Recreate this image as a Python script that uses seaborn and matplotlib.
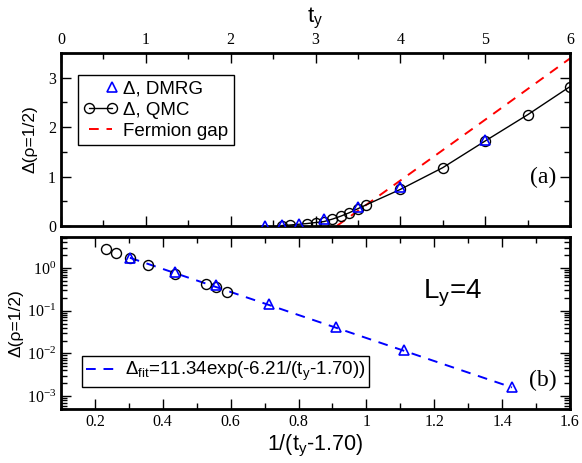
import numpy as np
import pandas as pd
import matplotlib
matplotlib.use("Agg")
import matplotlib.pyplot as plt
import seaborn as sns
from matplotlib.ticker import MultipleLocator, LogLocator, NullFormatter, FixedLocator

# ---------------- data ----------------
dmrg_t = [2.4, 2.6, 2.8, 3.1, 3.5, 4.0, 5.0]
dmrg_gap = [0.0016, 0.012, 0.041, 0.14, 0.39, 0.79, 1.75]

qmc_t = [2.6, 2.7, 2.9, 3.0, 3.1, 3.2, 3.3, 3.4, 3.5, 3.6, 4.0, 4.5, 5.0, 5.5, 6.0]
qmc_gap = [0.01, 0.02, 0.05, 0.07, 0.09, 0.14, 0.2, 0.27, 0.35, 0.43, 0.74, 1.18, 1.72, 2.25, 2.82]

fermion_t = [3.25, 4.0, 5.0, 6.0]
fermion_gap = [0.0, 0.92, 2.15, 3.39]

fit_x = [0.303, 1.429]
fit_y = [1.73, 0.0016]

t_shift = 1.70
qmc_min_t_loglog = 3.4

yticks_top = [0, 1, 2, 3]
xticks_top = [0, 1, 2, 3, 4, 5, 6]
xticks_bot = [0.2, 0.4, 0.6, 0.8, 1.0, 1.2, 1.4, 1.6]
xticklabels_bot = ["0.2", "0.4", "0.6", "0.8", "1", "1.2", "1.4", "1.6"]
yticks_bot = [1e-3, 1e-2, 1e-1, 1e0]
yticklabels_bot = [r"$\mathregular{10^{-3}}$", r"$\mathregular{10^{-2}}$",
                   r"$\mathregular{10^{-1}}$", r"$\mathregular{10^{0}}$"]

# ---------------- style ----------------
sns.set_style("ticks")
plt.rcParams["font.family"] = ["Liberation Sans", "DejaVu Sans"]
plt.rcParams["mathtext.fontset"] = "custom"
plt.rcParams["mathtext.rm"] = "Liberation Sans"
plt.rcParams["mathtext.it"] = "Liberation Sans:italic"
for k in ["axes.edgecolor", "xtick.color", "ytick.color", "text.color",
          "axes.labelcolor", "xtick.labelcolor", "ytick.labelcolor"]:
    plt.rcParams[k] = "black"
SERIF = "Liberation Serif"

W, H = 582, 463
fig = plt.figure(figsize=(W / 100, H / 100), dpi=100)

def axpos(l, t, r, b):
    return [l / W, 1 - b / H, (r - l) / W, (b - t) / H]

ax1 = fig.add_axes(axpos(61, 53, 570, 226))
ax2 = fig.add_axes(axpos(61, 237, 570, 409))

df_d = pd.DataFrame({"t": dmrg_t, "gap": dmrg_gap})
df_q = pd.DataFrame({"t": qmc_t, "gap": qmc_gap})
df_f = pd.DataFrame({"t": fermion_t, "gap": fermion_gap})

MS = 7.2

# ---------- top panel ----------
sns.lineplot(data=df_f, x="t", y="gap", ax=ax1, color="red", lw=1.4,
             linestyle=(0, (5, 4)), label="Fermion gap", zorder=2)
sns.lineplot(data=df_q, x="t", y="gap", ax=ax1, color="black", lw=1.0,
             marker="o", markersize=MS, markerfacecolor="none",
             markeredgecolor="black", markeredgewidth=1.0, label="Δ, QMC", zorder=3)
sns.lineplot(data=df_d, x="t", y="gap", ax=ax1, color="blue", linestyle="",
             marker="^", markersize=MS, markerfacecolor="none",
             markeredgecolor="blue", markeredgewidth=1.2, label="Δ, DMRG", zorder=4)

ax1.set_xlim(0, 6)
ax1.set_ylim(0, 3.5)
ax1.set_xticks(xticks_top)
ax1.set_yticks(yticks_top)
ax1.xaxis.set_minor_locator(MultipleLocator(0.5))
ax1.yaxis.set_minor_locator(MultipleLocator(0.5))
ax1.xaxis.tick_top()
ax1.xaxis.set_label_position("top")
ax1.set_xlabel(r"$\mathregular{t_y}$", fontsize=16, labelpad=7)
ax1.set_ylabel("Δ(ρ=1/2)", fontsize=12.5, labelpad=8)
ax1.tick_params(which="both", direction="in", top=True, bottom=True, left=True, right=True,
                labeltop=True, labelbottom=False, labelfontfamily=SERIF, labelsize=11.5)
ax1.tick_params(which="major", length=7, width=1)
ax1.tick_params(which="minor", length=4, width=1)

h, l = ax1.get_legend_handles_labels()
order = [l.index("Δ, DMRG"), l.index("Δ, QMC"), l.index("Fermion gap")]
leg1 = ax1.legend([h[i] for i in order], [l[i] for i in order],
                  loc="upper left", bbox_to_anchor=((78 - 61) / 509, (226 - 75) / 173),
                  borderaxespad=0, fontsize=13.5, frameon=True, fancybox=False,
                  edgecolor="black", framealpha=1, handlelength=1.8, handletextpad=0.3,
                  labelspacing=0.2, borderpad=0.3, numpoints=2)
leg1.get_frame().set_linewidth(1.0)
leg1.legend_handles[0].set_markevery([1])

ax1.text((543 - 61) / 509, (226 - 177) / 173, "(a)", transform=ax1.transAxes,
         fontsize=17, family=SERIF, ha="center", va="center")

# ---------- bottom panel ----------
df_d2 = pd.DataFrame({"x": [1 / (t - t_shift) for t in dmrg_t], "gap": dmrg_gap})
sel = [(1 / (t - t_shift), g) for t, g in zip(qmc_t, qmc_gap) if t >= qmc_min_t_loglog]
df_q2 = pd.DataFrame({"x": [s[0] for s in sel], "gap": [s[1] for s in sel]})
df_fit = pd.DataFrame({"x": fit_x, "gap": fit_y})

sns.lineplot(data=df_fit, x="x", y="gap", ax=ax2, color="blue", lw=1.4,
             linestyle=(0, (5, 4)),
             label=r"$\mathregular{\Delta_{fit}}$=11.34exp(-6.21/(t$_\mathregular{y}$-1.70))",
             zorder=2)
sns.lineplot(data=df_q2, x="x", y="gap", ax=ax2, color="black", linestyle="",
             marker="o", markersize=MS, markerfacecolor="none",
             markeredgecolor="black", markeredgewidth=1.0, zorder=3, legend=False)
sns.lineplot(data=df_d2, x="x", y="gap", ax=ax2, color="blue", linestyle="",
             marker="^", markersize=MS, markerfacecolor="none",
             markeredgecolor="blue", markeredgewidth=1.2, zorder=4, legend=False)

ax2.set_yscale("log")
ax2.set_xlim(0.1, 1.6)
ax2.set_ylim(5e-4, 5.3)
ax2.set_xticks(xticks_bot)
ax2.set_xticklabels(xticklabels_bot)
ax2.xaxis.set_minor_locator(MultipleLocator(0.1))
ax2.yaxis.set_major_locator(FixedLocator(yticks_bot))
ax2.set_yticklabels(yticklabels_bot)
ax2.yaxis.set_minor_locator(LogLocator(base=10, subs=np.arange(2, 10)))
ax2.yaxis.set_minor_formatter(NullFormatter())
ax2.set_xlabel(r"1/(t$_\mathregular{y}$-1.70)", fontsize=15.5, labelpad=2)
ax2.set_ylabel("Δ(ρ=1/2)", fontsize=12.5, labelpad=2)
ax2.tick_params(which="both", direction="in", top=True, bottom=True, left=True, right=True,
                labelfontfamily=SERIF, labelsize=11.5)
ax2.tick_params(which="major", length=7, width=1)
ax2.tick_params(which="minor", length=4, width=1)

leg2 = ax2.legend(loc="lower left", bbox_to_anchor=((82 - 61) / 509, (409 - 387) / 172),
                  borderaxespad=0, fontsize=13.5, frameon=True, fancybox=False,
                  edgecolor="black", framealpha=1, handlelength=1.8, handletextpad=0.3,
                  borderpad=0.2)
leg2.get_frame().set_linewidth(1.0)

ax2.text((543 - 61) / 509, (409 - 380) / 172, "(b)", transform=ax2.transAxes,
         fontsize=17, family=SERIF, ha="center", va="center")
ax2.text((452 - 61) / 509, (409 - 293) / 172, r"$\mathregular{L_y}$=4", transform=ax2.transAxes,
         fontsize=20, ha="center", va="center")

for ax in (ax1, ax2):
    for s in ax.spines.values():
        s.set_linewidth(2)
        s.set_color("black")
        s.set_visible(True)

fig.savefig("out.png", dpi=100)
